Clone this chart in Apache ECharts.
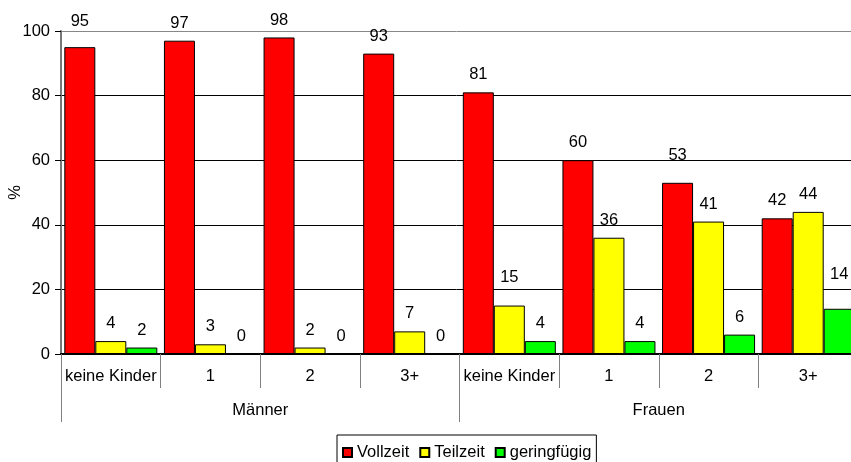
<!DOCTYPE html>
<html>
<head>
<meta charset="utf-8">
<script src="https://cdn.jsdelivr.net/npm/echarts@6/dist/echarts.min.js"></script>
<style>
  html, body { margin: 0; padding: 0; background: #fff; }
  #chart { width: 851px; height: 462px; }
</style>
</head>
<body>
<div id="chart"></div>
<script>
// Erwerbsbeteiligung nach Geschlecht und Kinderzahl (in %)
const categories = ['keine Kinder', '1', '2', '3+', 'keine Kinder', '1', '2', '3+'];
const groups = ['Männer', 'Frauen'];
const seriesNames = ['Vollzeit', 'Teilzeit', 'geringfügig'];
const vollzeit = [95, 97, 98, 93, 81, 60, 53, 42];
const teilzeit = [4, 3, 2, 7, 15, 36, 41, 44];
const geringfuegig = [2, 0, 0, 0, 4, 4, 6, 14];
const yTicks = [0, 20, 40, 60, 80, 100];

const colors = ['#ff0000', '#ffff00', '#00ff00'];
const FONT = "'Liberation Sans', Arial, sans-serif";
const FS = 16.5;

// a few value labels sit somewhat higher above their bar (extra px)
const labelLift = [
  { 0: 8, 6: 10 },
  { 4: 11 },
  { 7: 17 }
];

function makeSeries(name, values, idx) {
  return {
    name: name,
    type: 'bar',
    xAxisIndex: 0,
    barWidth: 31,
    barGap: '0%',
    itemStyle: { color: colors[idx], borderColor: '#000', borderWidth: 1 },
    label: {
      show: true,
      position: 'top',
      distance: 9,
      color: '#000',
      fontSize: FS,
      fontFamily: FONT
    },
    data: values.map((v, i) => {
      const lift = labelLift[idx][i];
      return lift ? { value: v, label: { distance: 9 + lift } } : v;
    })
  };
}

const chart = echarts.init(document.getElementById('chart'), null, { renderer: 'canvas' });

chart.setOption({
  animation: false,
  textStyle: { fontFamily: FONT },
  grid: { left: 61, top: 31, right: -7, bottom: 108, containLabel: false, outerBoundsMode: 'none' },
  legend: {
    data: seriesNames,
    left: 337,
    top: 435,
    orient: 'horizontal',
    icon: 'rect',
    itemWidth: 9,
    itemHeight: 9,
    itemGap: 10,
    borderColor: '#000',
    borderWidth: 1,
    padding: [9, 5, 8, 5],
    textStyle: { fontSize: FS, color: '#000', fontFamily: FONT }
  },
  xAxis: [
    {
      type: 'category',
      data: categories,
      position: 'bottom',
      axisLine: { show: true, lineStyle: { color: '#000', width: 2 } },
      axisTick: { show: true, interval: 0, length: 34, lineStyle: { color: '#808080', width: 1 } },
      axisLabel: { interval: 0, margin: 14, fontSize: FS, color: '#000', fontFamily: FONT },
      splitLine: { show: false }
    },
    {
      type: 'category',
      data: groups,
      position: 'bottom',
      axisLine: { show: false },
      axisTick: { show: true, interval: 0, length: 68, lineStyle: { color: '#808080', width: 1 } },
      axisLabel: { interval: 0, margin: 48, fontSize: FS, color: '#000', fontFamily: FONT },
      splitLine: { show: false }
    }
  ],
  yAxis: {
    type: 'value',
    min: yTicks[0],
    max: yTicks[yTicks.length - 1],
    interval: yTicks[1] - yTicks[0],
    name: '%',
    nameLocation: 'middle',
    nameRotate: 90,
    nameGap: 37,
    nameMoveOverlap: false,
    nameTextStyle: { fontSize: FS, color: '#000', fontFamily: FONT },
    axisLine: { show: true, lineStyle: { color: '#777', width: 2 } },
    axisTick: { show: true, length: 6, lineStyle: { color: '#000' } },
    axisLabel: { margin: 11, fontSize: FS, color: '#000', fontFamily: FONT },
    splitLine: {
      show: true,
      lineStyle: { color: ['#000', '#000', '#000', '#000', '#000', '#888'], width: 1 }
    }
  },
  series: [
    makeSeries(seriesNames[0], vollzeit, 0),
    makeSeries(seriesNames[1], teilzeit, 1),
    makeSeries(seriesNames[2], geringfuegig, 2)
  ]
});
</script>
</body>
</html>
